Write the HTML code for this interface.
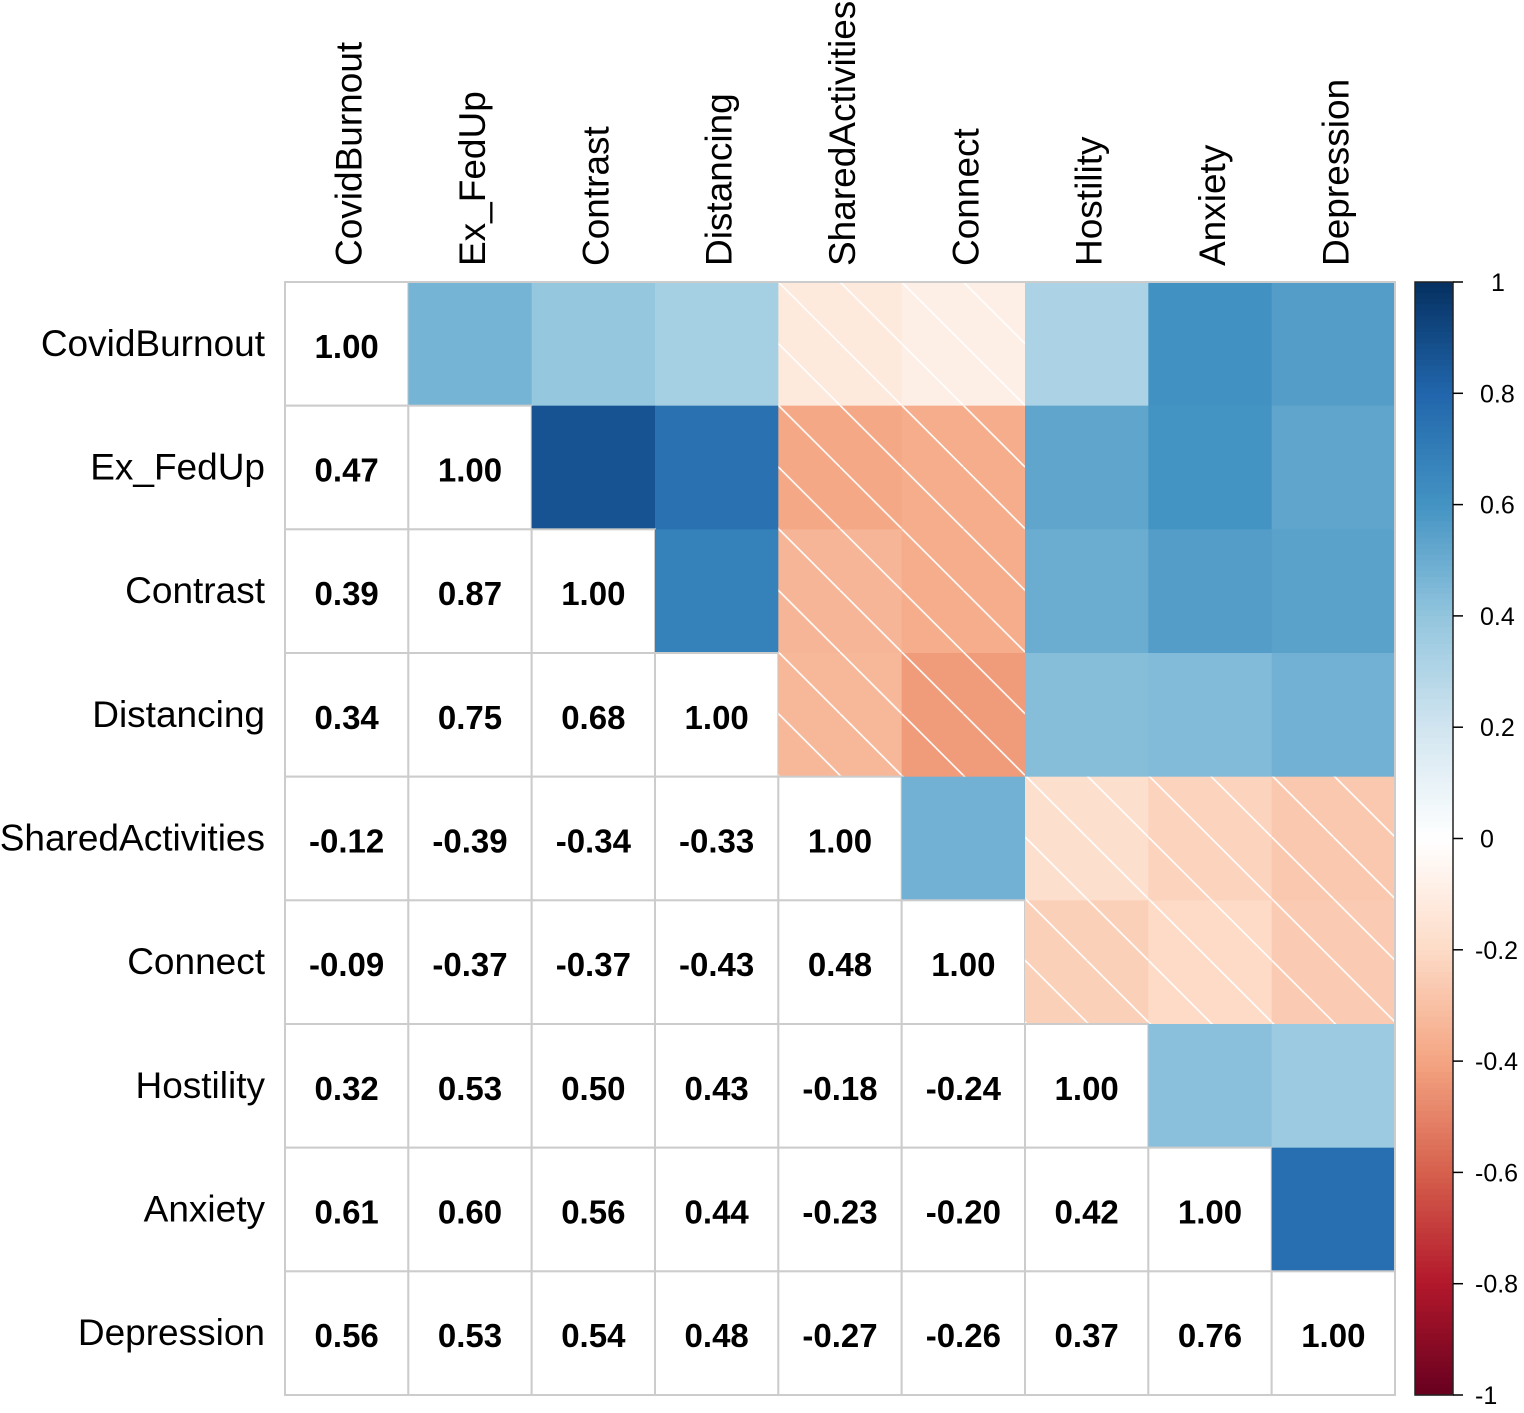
<!DOCTYPE html>
<html><head><meta charset="utf-8"><style>
html,body{margin:0;padding:0;background:#fff}
svg text{font-family:"Liberation Sans",Arial,sans-serif}
</style></head><body>
<svg id="chart" width="1524" height="1408" xmlns="http://www.w3.org/2000/svg">
<defs>
<pattern id="hatch" patternUnits="userSpaceOnUse" x="285" y="282" width="61.67" height="61.67">
<line x1="0" y1="0" x2="61.67" y2="61.67" stroke="#fff" stroke-width="1.6"/>
<line x1="-61.67" y1="0" x2="0" y2="61.67" stroke="#fff" stroke-width="1.6"/>
<line x1="61.67" y1="0" x2="123.3" y2="61.67" stroke="#fff" stroke-width="1.6"/>
</pattern>
</defs>
<g id="cells"></g>
<g id="labels"></g>
<g id="legend"></g>
</svg>
<script>
const vars = ["CovidBurnout","Ex_FedUp","Contrast","Distancing","SharedActivities","Connect","Hostility","Anxiety","Depression"];
const lowerVals = [
 [1.00],
 [0.47,1.00],
 [0.39,0.87,1.00],
 [0.34,0.75,0.68,1.00],
 [-0.12,-0.39,-0.34,-0.33,1.00],
 [-0.09,-0.37,-0.37,-0.43,0.48,1.00],
 [0.32,0.53,0.50,0.43,-0.18,-0.24,1.00],
 [0.61,0.60,0.56,0.44,-0.23,-0.20,0.42,1.00],
 [0.56,0.53,0.54,0.48,-0.27,-0.26,0.37,0.76,1.00]
];
const legendTicks = [1,0.8,0.6,0.4,0.2,0,-0.2,-0.4,-0.6,-0.8,-1];
const palette = ["#67001F","#B2182B","#D6604D","#F4A582","#FDDBC7","#FFFFFF","#D1E5F0","#92C5DE","#4393C3","#2166AC","#053061"];

const NS="http://www.w3.org/2000/svg";
const X0=285,Y0=282,X1=1395,Y1=1395,n=vars.length;
const cw=(X1-X0)/n, ch=(Y1-Y0)/n;
function xPos(j){return X0+j*cw;}
function yPos(i){return Y0+i*ch;}
function hex(c){return [1,3,5].map(k=>parseInt(c.substr(k,2),16));}
function colorFor(v){
  const t=(v+1)/2*(palette.length-1);
  const k=Math.min(palette.length-2,Math.floor(t)), f=t-k;
  const a=hex(palette[k]), b=hex(palette[k+1]);
  return "rgb("+a.map((x,i)=>Math.round(x+(b[i]-x)*f)).join(",")+")";
}
function mk(tag,attrs,parent){const e=document.createElementNS(NS,tag);for(const k in attrs)e.setAttribute(k,attrs[k]);parent.appendChild(e);return e;}
function val(i,j){return i>=j?lowerVals[i][j]:lowerVals[j][i];}

const cells=document.getElementById('cells');
const labels=document.getElementById('labels');
const legend=document.getElementById('legend');

for(let i=0;i<n;i++){for(let j=0;j<n;j++){
  const v=val(i,j);
  if(j<=i){
    const r=mk('rect',{x:xPos(j),y:yPos(i),width:cw,height:ch,fill:'#fff',stroke:'#cccccc','stroke-width':2},cells);
    
    
    const t=mk('text',{x:xPos(j)+cw/2,y:yPos(i)+ch/2+14,'text-anchor':'middle','font-size':33,'font-weight':'bold',fill:'#000'},cells);
    t.textContent=v.toFixed(2);
    
    
  } else {
    const r=mk('rect',{x:xPos(j),y:yPos(i),width:cw+0.5,height:ch+0.5,fill:colorFor(v)},cells);
    
    
    if(v<0){
      const h=mk('rect',{x:xPos(j),y:yPos(i),width:cw,height:ch,fill:'url(#hatch)'},cells);
      
      
    }
  }
}}
const br=mk('rect',{x:X0,y:Y0,width:X1-X0,height:Y1-Y0,fill:'none',stroke:'#cccccc','stroke-width':2},cells);



vars.forEach((name,i)=>{
  const t=mk('text',{x:265,y:yPos(i)+ch/2+12,'text-anchor':'end','font-size':37,fill:'#000'},labels);
  t.textContent=name;
  
  
  const cx=xPos(i)+cw/2+15;
  const c=mk('text',{x:cx,y:266,transform:'rotate(-90 '+cx+' 266)','font-size':37,fill:'#000'},labels);
  c.textContent=name;
  
  
});

// legend
const LX=1415,LW=38;
function ly(v){return Y0+(1-v)/2*(Y1-Y0);}
const steps=200;
for(let s=0;s<steps;s++){
  const v1=1-2*s/steps, v2=1-2*(s+1)/steps;
  const r=mk('rect',{x:LX,y:ly(v1),width:LW,height:ly(v2)-ly(v1)+0.6,fill:colorFor((v1+v2)/2)},legend);
  
  
}
const lb=mk('rect',{x:LX,y:Y0,width:LW,height:Y1-Y0,fill:'none',stroke:'#222','stroke-width':1.5},legend);


legendTicks.forEach(v=>{
  const l=mk('line',{x1:LX+LW,x2:LX+LW+10,y1:ly(v),y2:ly(v),stroke:'#000','stroke-width':1.5},legend);
  
  
  const t=mk('text',{x:v<0?1475:(v===1?1491:1480),y:ly(v)+9,'font-size':25,fill:'#000'},legend);
  t.textContent=String(v);
  
  
});
</script>
</body></html>
